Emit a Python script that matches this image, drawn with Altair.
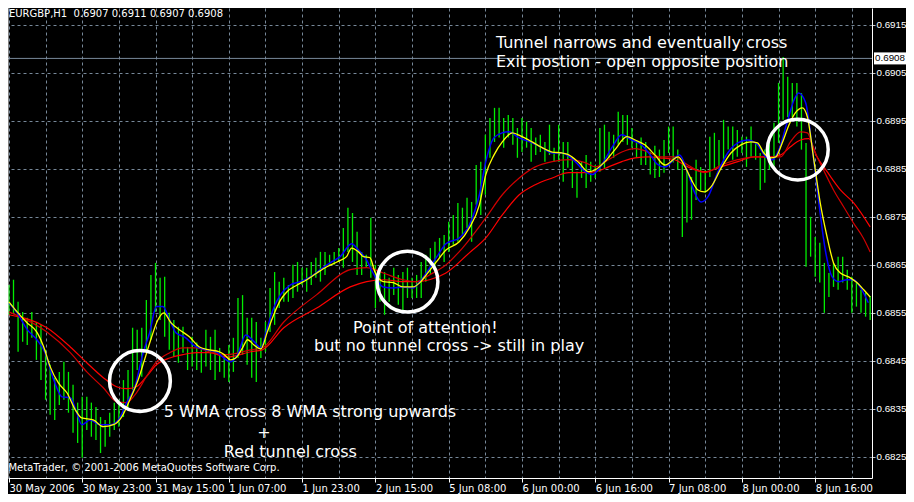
import altair as alt
import pandas as pd

# ---------------- data ----------------
bar_high = [
    0.68608, 0.68619, 0.68573, 0.68552, 0.68540, 0.68552, 0.68531, 0.68525, 0.68473, 0.68442,
    0.68415, 0.68427, 0.68448, 0.68427, 0.68400, 0.68363, 0.68375, 0.68375, 0.68363, 0.68354,
    0.68333, 0.68327, 0.68342, 0.68363, 0.68369, 0.68410, 0.68431, 0.68519, 0.68515, 0.68519,
    0.68577, 0.68629, 0.68654, 0.68623, 0.68625, 0.68550, 0.68535, 0.68521, 0.68521, 0.68479,
    0.68500, 0.68488, 0.68473, 0.68515, 0.68500, 0.68515, 0.68477, 0.68463, 0.68483, 0.68498,
    0.68581, 0.68587, 0.68540, 0.68540, 0.68531, 0.68498, 0.68531, 0.68602, 0.68635, 0.68615,
    0.68623, 0.68608, 0.68650, 0.68656, 0.68644, 0.68644, 0.68656, 0.68665, 0.68677, 0.68677,
    0.68671, 0.68677, 0.68685, 0.68727, 0.68769, 0.68758, 0.68719, 0.68677, 0.68671, 0.68748,
    0.68650, 0.68650, 0.68635, 0.68623, 0.68644, 0.68629, 0.68635, 0.68644, 0.68623, 0.68629,
    0.68656, 0.68671, 0.68685, 0.68698, 0.68706, 0.68712, 0.68740, 0.68754, 0.68779, 0.68769,
    0.68790, 0.68781, 0.68858, 0.68865, 0.68921, 0.68956, 0.68977, 0.68977, 0.68956, 0.68962,
    0.68956, 0.68935, 0.68956, 0.68948, 0.68935, 0.68915, 0.68921, 0.68906, 0.68942, 0.68894,
    0.68942, 0.68906, 0.68906, 0.68873, 0.68844, 0.68865, 0.68879, 0.68865, 0.68858, 0.68935,
    0.68942, 0.68927, 0.68921, 0.68969, 0.68962, 0.68962, 0.68935, 0.68906, 0.68915, 0.68906,
    0.68885, 0.68898, 0.68890, 0.68910, 0.68938, 0.68938, 0.68890, 0.68863, 0.68848, 0.68833,
    0.68869, 0.68854, 0.68848, 0.68917, 0.68925, 0.68910, 0.68952, 0.68938, 0.68938, 0.68931,
    0.68917, 0.68917, 0.68938, 0.68904, 0.68883, 0.68890, 0.68904, 0.68946, 0.69029, 0.69083,
    0.69042, 0.69029, 0.69029, 0.69008, 0.68904, 0.68750, 0.68708, 0.68696, 0.68654, 0.68633,
    0.68654, 0.68667, 0.68667, 0.68640, 0.68625, 0.68613, 0.68598, 0.68592, 0.68585,
]
bar_low = [
    0.68546, 0.68550, 0.68469, 0.68490, 0.68483, 0.68498, 0.68452, 0.68410, 0.68369, 0.68338,
    0.68327, 0.68358, 0.68369, 0.68342, 0.68300, 0.68279, 0.68248, 0.68306, 0.68292, 0.68285,
    0.68258, 0.68271, 0.68292, 0.68306, 0.68313, 0.68333, 0.68354, 0.68390, 0.68431, 0.68417,
    0.68473, 0.68494, 0.68552, 0.68535, 0.68500, 0.68473, 0.68458, 0.68446, 0.68467, 0.68431,
    0.68438, 0.68431, 0.68425, 0.68438, 0.68431, 0.68410, 0.68427, 0.68415, 0.68406, 0.68427,
    0.68456, 0.68463, 0.68442, 0.68415, 0.68406, 0.68456, 0.68469, 0.68510, 0.68525, 0.68560,
    0.68573, 0.68573, 0.68581, 0.68594, 0.68608, 0.68594, 0.68608, 0.68623, 0.68615, 0.68629,
    0.68650, 0.68650, 0.68656, 0.68644, 0.68677, 0.68656, 0.68629, 0.68629, 0.68644, 0.68623,
    0.68560, 0.68573, 0.68546, 0.68573, 0.68587, 0.68567, 0.68556, 0.68581, 0.68581, 0.68581,
    0.68581, 0.68615, 0.68629, 0.68635, 0.68665, 0.68656, 0.68677, 0.68692, 0.68698, 0.68712,
    0.68727, 0.68698, 0.68775, 0.68754, 0.68796, 0.68873, 0.68906, 0.68915, 0.68894, 0.68915,
    0.68900, 0.68873, 0.68885, 0.68894, 0.68865, 0.68879, 0.68885, 0.68865, 0.68879, 0.68865,
    0.68865, 0.68823, 0.68852, 0.68810, 0.68790, 0.68831, 0.68810, 0.68823, 0.68831, 0.68844,
    0.68852, 0.68873, 0.68873, 0.68900, 0.68906, 0.68900, 0.68894, 0.68873, 0.68858, 0.68858,
    0.68838, 0.68831, 0.68833, 0.68842, 0.68883, 0.68863, 0.68848, 0.68708, 0.68738, 0.68744,
    0.68785, 0.68806, 0.68800, 0.68833, 0.68848, 0.68854, 0.68863, 0.68890, 0.68869, 0.68875,
    0.68883, 0.68854, 0.68875, 0.68869, 0.68806, 0.68821, 0.68848, 0.68854, 0.68904, 0.68952,
    0.68958, 0.68958, 0.68938, 0.68890, 0.68646, 0.68667, 0.68625, 0.68613, 0.68550, 0.68583,
    0.68604, 0.68598, 0.68613, 0.68598, 0.68550, 0.68563, 0.68550, 0.68542, 0.68535,
]

yellow_x = [0, 1.8, 4, 6.1, 7.6, 9, 10.8, 12.7, 14.5, 15.9, 18.4, 20.6, 22.8, 24.6, 26.4, 28.2,
            29.6, 31.1, 32.5, 33.8, 35.4, 37.2, 39.4, 41.6, 43.7, 45.9, 47.0, 48.4, 49.5, 51,
            52.1, 53.5, 55, 56.4, 57.8, 59.3, 60.7, 62.9, 65, 67.2, 69.4, 71.6, 73.7, 74.8,
            76.3, 77.4, 78.8, 79.9, 81.7, 83.9, 86, 88.2, 89.7, 91.1, 93.3, 95.4, 98.3, 100.5,
            102.7, 104.1, 105.9, 107.7, 109.9, 112, 114.2, 116.4, 118.6, 120.7, 122.2, 124.4,
            126.5, 128, 130.1, 132.3, 134.9, 136.7, 138.8, 141, 143.2, 146.1, 147.6, 149,
            150.4, 151.8, 153.3, 155.5, 157.6, 159.8, 161.9, 163.4, 164.8, 166.3, 167.4, 168.8,
            170.3, 171.7, 173.2, 174.3, 175.7, 177.1, 178.6, 180, 181.5, 183.3, 185.1, 186.6, 188]
yellow_p = [0.68573, 0.68552, 0.68529, 0.68510, 0.68479, 0.68438, 0.68404, 0.68383, 0.68348,
            0.68331, 0.68327, 0.68313, 0.68317, 0.68333, 0.68369, 0.68410, 0.68452, 0.68498,
            0.68535, 0.68550, 0.68529, 0.68515, 0.68500, 0.68479, 0.68473, 0.68469, 0.68463,
            0.68452, 0.68456, 0.68477, 0.68494, 0.68483, 0.68475, 0.68510, 0.68546, 0.68577,
            0.68594, 0.68608, 0.68619, 0.68633, 0.68646, 0.68656, 0.68667, 0.68685, 0.68677,
            0.68667, 0.68665, 0.68635, 0.68615, 0.68613, 0.68604, 0.68604, 0.68613, 0.68629,
            0.68656, 0.68681, 0.68698, 0.68727, 0.68775, 0.68838, 0.68879, 0.68906, 0.68925,
            0.68917, 0.68906, 0.68894, 0.68885, 0.68883, 0.68879, 0.68863, 0.68844, 0.68848,
            0.68865, 0.68890, 0.68917, 0.68910, 0.68900, 0.68879, 0.68858, 0.68875, 0.68854,
            0.68827, 0.68806, 0.68802, 0.68813, 0.68852, 0.68883, 0.68900, 0.68906, 0.68904,
            0.68883, 0.68873, 0.68875, 0.68904, 0.68942, 0.68967, 0.68977, 0.68958, 0.68869,
            0.68779, 0.68708, 0.68654, 0.68633, 0.68625, 0.68613, 0.68598, 0.68583]

blue_x = [0, 1.8, 4, 6.1, 7.9, 9.8, 11.6, 13.4, 14.8, 15.9, 17.7, 19.9, 22.1, 23.9, 25.7, 27.5,
          29.3, 30.7, 32.2, 33.6, 35.1, 36.5, 38.3, 40.9, 43, 45.2, 48.4, 49.9, 51.7, 53.5, 55,
          56.4, 57.8, 59.3, 61.4, 63.6, 65.8, 68, 70.1, 72.3, 74.8, 76.3, 78.1, 79.5, 81.7,
          83.9, 86, 88.2, 89.7, 91.1, 93.3, 95.4, 98.3, 100.5, 102.7, 104.1, 105.9, 107.7,
          109.1, 111.3, 114.2, 116.4, 118.6, 120.7, 123.6, 125.8, 127.3, 129.4, 131.6, 133.8,
          136, 138.1, 140.3, 141.5, 143.2, 146.4, 148.2, 149.7, 151.1, 152.6, 154.7, 156.9,
          159.1, 161.2, 163.4, 165.2, 166.7, 168.1, 169.9, 171.4, 172.4, 173.9, 175.4, 176.8,
          178.2, 179.7, 181.1, 182.9, 184.4, 185.8, 187.6]
blue_p = [0.68571, 0.68550, 0.68515, 0.68494, 0.68467, 0.68410, 0.68375, 0.68373, 0.68342,
          0.68317, 0.68327, 0.68317, 0.68317, 0.68327, 0.68363, 0.68396, 0.68467, 0.68508,
          0.68563, 0.68563, 0.68535, 0.68508, 0.68500, 0.68479, 0.68473, 0.68469, 0.68448,
          0.68463, 0.68504, 0.68490, 0.68477, 0.68519, 0.68560, 0.68588, 0.68608, 0.68615,
          0.68625, 0.68640, 0.68654, 0.68667, 0.68694, 0.68681, 0.68660, 0.68633, 0.68604,
          0.68602, 0.68604, 0.68602, 0.68615, 0.68633, 0.68665, 0.68694, 0.68706, 0.68733,
          0.68796, 0.68865, 0.68915, 0.68925, 0.68927, 0.68915, 0.68904, 0.68894, 0.68883,
          0.68883, 0.68865, 0.68844, 0.68838, 0.68858, 0.68894, 0.68921, 0.68910, 0.68900,
          0.68875, 0.68860, 0.68854, 0.68879, 0.68842, 0.68800, 0.68781, 0.68792, 0.68842,
          0.68883, 0.68904, 0.68910, 0.68900, 0.68875, 0.68869, 0.68890, 0.68948, 0.68994,
          0.69008, 0.68988, 0.68890, 0.68779, 0.68681, 0.68625, 0.68615, 0.68619, 0.68619,
          0.68604, 0.68571]

red_fast_x = [0, 8.3, 13.4, 17, 20.6, 23.5, 25.7, 27.8, 30, 32.2, 35.1, 38, 40.9, 43.7, 47.7,
              52.8, 55.3, 60, 67.2, 74.5, 78.1, 81.7, 86, 88.9, 91.8, 95.4, 99, 104.1, 107.7,
              111.4, 114.9, 118.6, 122.2, 125.8, 128, 130.9, 133.8, 136.7, 139.6, 142.1, 145.3,
              148.2, 151.8, 155.5, 159.1, 162.7, 166.3, 168.5, 170.6, 172.8, 174.3, 175.7,
              177.8, 180, 182.2, 184.3, 186.5, 188]
red_fast_p = [0.68552, 0.68510, 0.68467, 0.68427, 0.68394, 0.68365, 0.68363, 0.68383, 0.68417,
              0.68448, 0.68467, 0.68477, 0.68477, 0.68469, 0.68463, 0.68473, 0.68477, 0.68531,
              0.68588, 0.68640, 0.68644, 0.68633, 0.68619, 0.68615, 0.68629, 0.68650, 0.68685,
              0.68748, 0.68796, 0.68831, 0.68854, 0.68865, 0.68869, 0.68863, 0.68854, 0.68869,
              0.68885, 0.68892, 0.68885, 0.68875, 0.68875, 0.68858, 0.68842, 0.68858, 0.68869,
              0.68875, 0.68875, 0.68875, 0.68906, 0.68927, 0.68925, 0.68890, 0.68848, 0.68806,
              0.68771, 0.68738, 0.68706, 0.68677]

red_slow_x = [0, 8.3, 13.4, 17, 20.6, 23.5, 25.7, 27.8, 30, 32.2, 35.1, 38, 40.9, 43.7, 47.7,
              52.8, 55.3, 60, 67.2, 74.5, 78.1, 81.7, 86, 88.9, 91.8, 95.4, 100.5, 104.1, 107.7,
              111.4, 114.9, 118.6, 122.2, 125.8, 128, 130.9, 133.8, 136.7, 139.6, 142.1, 145.3,
              148.2, 151.8, 155.5, 159.1, 162.7, 166.3, 168.5, 170.6, 172.8, 174.6, 176.4,
              178.6, 181.5, 184.4, 188]
red_slow_p = [0.68546, 0.68519, 0.68479, 0.68446, 0.68415, 0.68396, 0.68392, 0.68396, 0.68417,
              0.68442, 0.68456, 0.68463, 0.68467, 0.68467, 0.68458, 0.68469, 0.68473, 0.68519,
              0.68560, 0.68604, 0.68615, 0.68619, 0.68615, 0.68615, 0.68619, 0.68633, 0.68675,
              0.68706, 0.68754, 0.68796, 0.68817, 0.68831, 0.68842, 0.68842, 0.68844, 0.68854,
              0.68865, 0.68873, 0.68875, 0.68873, 0.68869, 0.68854, 0.68844, 0.68854, 0.68865,
              0.68875, 0.68875, 0.68879, 0.68896, 0.68910, 0.68913, 0.68875, 0.68844, 0.68806,
              0.68779, 0.68729]

time_labels = ["30 May 2006", "30 May 23:00", "31 May 15:00", "1 Jun 07:00", "1 Jun 23:00",
               "2 Jun 15:00", "5 Jun 08:00", "6 Jun 00:00", "6 Jun 16:00", "7 Jun 08:00",
               "8 Jun 00:00", "8 Jun 16:00"]
price_ticks = [0.6825, 0.6835, 0.6845, 0.6855, 0.6865, 0.6875, 0.6885, 0.6895, 0.6905, 0.6915]
last_price = 0.6908

circle_idx = [28.6, 87.0, 172.2]
circle_price = [0.68408, 0.68615, 0.68890]

note_text = ["Tunnel narrows and eventually cross", "Exit postion - open opposite position",
             "Point of attention!", "but no tunnel cross -> still in play",
             "5 WMA cross 8 WMA strong upwards", "+", "Red tunnel cross"]
note_idx = [106.3, 106.3, 75.1, 66.6, 33.8, 54.2, 46.9]
note_price = [0.69112, 0.69073, 0.68519, 0.68481, 0.68344, 0.68300, 0.68260]

small_text = ["EURGBP,H1\u00a0\u00a00.6907 0.6911 0.6907 0.6908",
              "MetaTrader, \u00a9 2001-2006 MetaQuotes Software Corp."]
small_idx = [0.0, -0.1]
small_price = [0.69172, 0.68227]

# ---------------- chart ----------------
W, H = 864, 470
XDOM = [-0.2, 188.4]
YDOM = [0.68206, 0.69185]
GRID = "#778899"
FONT = "DejaVu Sans"
AXFONT = "Liberation Sans"

labels_js = "[" + ",".join("'" + s + "'" for s in time_labels) + "]"
x_axis = alt.Axis(
    values=list(range(0, 189, 8)), grid=True, gridColor=GRID, gridDash=[3, 3], gridWidth=1,
    domainColor="#ffffff", domainWidth=1,
    tickColor={"condition": {"test": "datum.value % 16 === 0", "value": "#ffffff"},
               "value": "rgba(0,0,0,0)"},
    tickSize=4, tickWidth=1,
    labelExpr=f"datum.value % 16 === 0 ? {labels_js}[datum.value / 16] : ''",
    labelAlign="left", labelColor="#ffffff", labelFont=FONT, labelFontSize=10,
    labelPadding=1, labelOverlap=False, labelFlush=False, title=None,
)
y_axis = alt.Axis(
    orient="right", values=price_ticks, format=".4f", grid=True, gridColor=GRID,
    gridDash=[3, 3], gridWidth=1, domainColor="#ffffff", domainWidth=1,
    tickColor="#c8c8c8", tickSize=3, labelColor="#ffffff", labelFont=AXFONT,
    labelFontSize=9.8, labelPadding=1, labelOverlap=False, labelFlush=False, title=None,
)


def X(field="idx"):
    return alt.X(f"{field}:Q", scale=alt.Scale(domain=XDOM, nice=False, zero=False),
                 axis=x_axis, title=None)


def Y(field="price"):
    return alt.Y(f"{field}:Q", scale=alt.Scale(domain=YDOM, nice=False, zero=False),
                 axis=y_axis, title=None)


bars_df = pd.DataFrame({"idx": list(range(len(bar_high))), "high": bar_high, "low": bar_low})
bars = alt.Chart(bars_df).mark_rule(color="#00ee00", strokeWidth=1.3).encode(
    x=X(), y=Y("low"), y2="high:Q")


def line(xs, ps, color, width):
    df = pd.DataFrame({"idx": xs, "price": ps})
    return alt.Chart(df).mark_line(color=color, strokeWidth=width,
                                   interpolate="monotone").encode(x=X(), y=Y())


red_slow = line(red_slow_x, red_slow_p, "#ff0000", 1.2)
red_fast = line(red_fast_x, red_fast_p, "#d00000", 1.2)
blue = line(blue_x, blue_p, "#0000ff", 1.5)
yellow = line(yellow_x, yellow_p, "#ffff00", 1.3)

price_df = pd.DataFrame({"price": [last_price], "label": [f"{last_price:.4f}"]})
price_line = alt.Chart(price_df).mark_rule(color=GRID, strokeWidth=1).encode(y=Y())
price_box = alt.Chart(price_df).mark_point(
    shape="M-1,-0.375L1,-0.375L1,0.375L-1,0.375Z", filled=True, color="#ffffff",
    size=1024, opacity=1).encode(x=alt.value(882), y=Y())
price_txt = alt.Chart(price_df).mark_text(
    color="#000000", font=AXFONT, fontSize=9.8, align="center", baseline="middle").encode(
    x=alt.value(882), y=Y(), text="label:N")

circ_df = pd.DataFrame({"idx": circle_idx, "price": circle_price})
circles = alt.Chart(circ_df).mark_point(
    shape="circle", filled=False, color="#ffffff", size=3700, strokeWidth=3.5,
    opacity=1).encode(x=X(), y=Y())

notes_df = pd.DataFrame({"idx": note_idx, "price": note_price, "txt": note_text})
notes = alt.Chart(notes_df).mark_text(
    color="#ffffff", font=FONT, fontSize=16, align="left", baseline="middle").encode(
    x=X(), y=Y(), text="txt:N")

small_df = pd.DataFrame({"idx": small_idx, "price": small_price, "txt": small_text})
smalls = alt.Chart(small_df).mark_text(
    color="#ffffff", font=FONT, fontSize=10, align="left", baseline="middle").encode(
    x=X(), y=Y(), text="txt:N")

left_border = alt.Chart(price_df).mark_rule(color="#ffffff", strokeWidth=1).encode(
    x=alt.value(0), y=alt.value(0), y2=alt.value(H))

chart = alt.layer(
    price_line, bars, red_slow, red_fast, blue, yellow, circles, notes, smalls,
    price_box, price_txt, left_border,
).properties(
    width=W, height=H, background="#000000",
    autosize=alt.AutoSizeParams(type="none"),
    padding={"left": 0, "top": 0, "right": 34, "bottom": 16},
).configure_view(stroke=None)

chart.save("out.html", embed_options={"renderer": "svg", "actions": False})
